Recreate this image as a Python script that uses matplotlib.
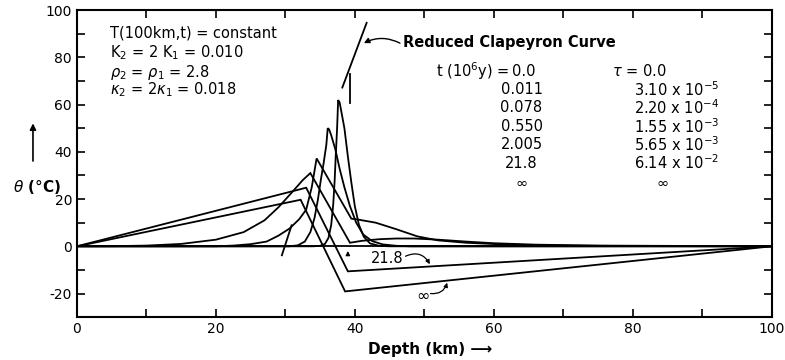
import matplotlib
matplotlib.use("Agg")
import matplotlib.pyplot as plt
import numpy as np

# depth (km) / temperature perturbation (deg C)
d_t0 = [0, 100]
th_t0 = [0, 0]

d_011 = [0, 34, 35, 35.7, 36.2, 36.6, 36.9, 37.1, 37.25, 37.45, 37.6, 37.8, 38.0,
         38.5, 39.0, 39.5, 40.0, 40.6, 41.3, 42.2, 43.5, 45, 100]
th_011 = [0, 0, 0.2, 1, 3.5, 9, 18, 28, 38, 50, 61.9, 61, 58,
          50, 38, 27, 17, 9, 4, 1.2, 0.2, 0, 0]

d_078 = [0, 30.5, 31.8, 32.8, 33.6, 34.2, 34.7, 35.1, 35.5, 35.9, 36.1, 36.3, 36.6,
         37.2, 37.8, 38.5, 39.3, 40.2, 41.2, 42.5, 44, 46, 48, 100]
th_078 = [0, 0, 0.4, 2, 6, 12, 20, 28, 35, 43, 50, 49.5, 47,
          41, 33, 25, 17, 10, 5, 2.2, 0.8, 0.2, 0, 0]

d_550 = [0, 20, 22.5, 25, 27.3, 29, 30.6, 32, 33, 33.8, 34.5, 39.5, 40.5,
         43, 46, 49, 52, 56, 62, 70, 80, 100]
th_550 = [0, 0, 0.3, 0.9, 2, 4.5, 7.5, 11.5, 15.5, 25, 37.2, 11.7, 11.3,
          10, 7.2, 4.2, 2.5, 1.5, 0.7, 0.3, 0.1, 0]

d_2005 = [0, 5, 10, 15, 20, 24, 27, 29, 31, 32.5, 33.6, 39.3, 41,
          43.5, 46, 48.5, 52, 56, 60, 66, 75, 100]
th_2005 = [0, 0.05, 0.3, 1.0, 2.8, 6, 11, 16.5, 23, 28, 31, 1.5, 2.3,
           3, 3.3, 3.3, 2.8, 2, 1.3, 0.7, 0.3, 0]

d_218 = [0, 33, 39, 100]
th_218 = [0, 24.8, -10.6, 0]

d_inf = [0, 32.2, 38.6, 100]
th_inf = [0, 19.7, -19.1, 0]

# reduced Clapeyron curve pieces
clap_lo_d = [29.5, 30.9]
clap_lo_th = [-3.8, 8.9]
clap_hi_d = [38.2, 41.7]
clap_hi_th = [67.2, 94.6]
stub_d = [39.3, 39.3]
stub_th = [60.6, 72.9]

t_labels = ["0.0", "0.011", "0.078", "0.550", "2.005", "21.8", r"$\infty$"]
tau_labels = ["0.0", r"3.10 x 10$^{-5}$", r"2.20 x 10$^{-4}$", r"1.55 x 10$^{-3}$",
              r"5.65 x 10$^{-3}$", r"6.14 x 10$^{-2}$", r"$\infty$"]

plt.rcParams['font.family'] = ['DejaVu Sans']
plt.rcParams['mathtext.fontset'] = 'dejavusans'
plt.rcParams['axes.unicode_minus'] = False

fig = plt.figure(figsize=(7.85, 3.6), dpi=100)
ax = fig.add_axes([0.098, 0.119, 0.885, 0.853])

lw = 1.3
for d, th in [(d_t0, th_t0), (d_011, th_011), (d_078, th_078), (d_550, th_550),
              (d_2005, th_2005), (d_218, th_218), (d_inf, th_inf)]:
    ax.plot(d, th, color='black', lw=lw, solid_joinstyle='miter')

for d, th in [(clap_lo_d, clap_lo_th), (clap_hi_d, clap_hi_th), (stub_d, stub_th)]:
    ax.plot(d, th, color='black', lw=lw)

# small arrow marking the boundary
ax.annotate('', xy=(39.0, -0.8), xytext=(39.0, -4.5),
            arrowprops=dict(arrowstyle='-|>', color='black', lw=0.9, mutation_scale=6))

ax.set_xlim(0, 100)
ax.set_ylim(-30, 100)
ax.set_xticks(np.arange(0, 101, 20))
ax.set_xticks(np.arange(0, 101, 10), minor=True)
ax.set_yticks(np.arange(-20, 101, 20))
ax.set_yticks(np.arange(-30, 101, 10), minor=True)
ax.tick_params(which='both', direction='in', length=6, width=1.2,
               top=True, right=True, labelsize=10)
for s in ax.spines.values():
    s.set_linewidth(1.5)

# parameter block
fs = 10.5
ax.text(4.7, 90.3, "T(100km,t) = constant", fontsize=fs, va='center')
ax.text(4.7, 81.8, r"K$_2$ = 2 K$_1$ = 0.010", fontsize=fs, va='center')
ax.text(4.7, 73.7, r"$\rho_2$ = $\rho_1$ = 2.8", fontsize=fs, va='center')
ax.text(4.7, 66.2, r"$\kappa_2$ = 2$\kappa_1$ = 0.018", fontsize=fs, va='center')

# table of times
row_y = [74.2, 66.5, 58.9, 50.8, 43.2, 35.2, 27.1]
ax.text(62.2, row_y[0], r"t (10$^6$y) =", fontsize=fs, va='center', ha='right')
for i, (ty, lab) in enumerate(zip(row_y, t_labels)):
    if i == 0:
        ax.text(62.6, ty, lab, fontsize=fs, va='center', ha='left')
    else:
        ax.text(64.0, ty, lab, fontsize=fs, va='center', ha='center')
ax.text(77.0, row_y[0], r"$\tau$ = 0.0", fontsize=fs, va='center', ha='left')
for ty, lab in zip(row_y[1:-1], tau_labels[1:-1]):
    ax.text(80.2, ty, lab, fontsize=fs, va='center', ha='left')
ax.text(84.2, row_y[-1], tau_labels[-1], fontsize=fs, va='center', ha='center')

ax.text(47.0, 86.3, "Reduced Clapeyron Curve", fontsize=fs, va='center',
        ha='left', fontweight='bold')
ax.annotate('', xy=(41.3, 86.0), xytext=(46.5, 86.0),
            arrowprops=dict(arrowstyle='-|>', color='black', lw=1.0,
                            mutation_scale=8, connectionstyle='arc3,rad=0.25',
                            shrinkA=0, shrinkB=0))

ax.text(44.6, -5.3, "21.8", fontsize=fs, va='center', ha='center')
ax.annotate('', xy=(50.8, -7.6), xytext=(47.3, -4.2),
            arrowprops=dict(arrowstyle='-|>', color='black', lw=0.9,
                            mutation_scale=6, connectionstyle='arc3,rad=-0.45',
                            shrinkA=0, shrinkB=0))
ax.text(49.8, -21.0, r"$\infty$", fontsize=fs + 1, va='center', ha='center')
ax.annotate('', xy=(53.3, -15.4), xytext=(50.9, -20.0),
            arrowprops=dict(arrowstyle='-|>', color='black', lw=0.9,
                            mutation_scale=6, connectionstyle='arc3,rad=0.4',
                            shrinkA=0, shrinkB=0))

# axis labels
fig.text(0.047, 0.483, r"$\theta$ ($\degree$C)", fontsize=11, fontweight='bold',
         ha='center', va='center')
fig.patches.append(matplotlib.patches.FancyArrowPatch(
    (0.042, 0.545), (0.042, 0.665), transform=fig.transFigure,
    arrowstyle='-|>', mutation_scale=9, color='black', lw=1.2))
fig.text(0.548, 0.028, "Depth (km) \u27f6", fontsize=11, fontweight='bold',
         ha='center', va='center')

fig.savefig("out.png", dpi=100)
